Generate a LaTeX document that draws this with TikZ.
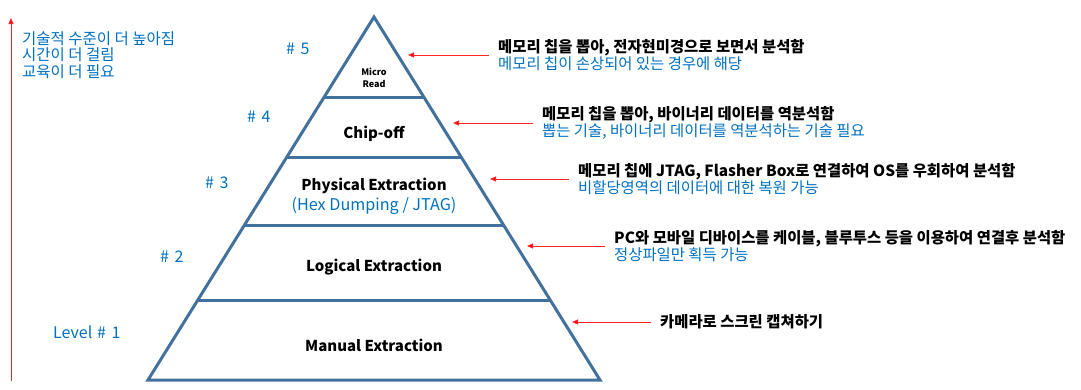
\documentclass[tikz,border=0pt]{standalone}
\usepackage{fontspec}
\setmainfont{Noto Sans CJK KR}
\usetikzlibrary{arrows.meta,calc}
\definecolor{pyr}{HTML}{41719C}
\definecolor{lbl}{HTML}{0070C0}
\begin{document}
\begin{tikzpicture}[x=1pt,y=-1pt,
  pyrline/.style={draw=pyr,line width=3pt,line join=miter},
  redarrow/.style={draw=red!85,line width=0.9pt,-{Triangle[length=6pt,width=5pt,fill=red]}},
  lvl/.style={text=lbl,font=\fontsize{16}{16}\selectfont,inner sep=0pt,anchor=west},
  ptitle/.style={font=\fontsize{15}{18}\selectfont\bfseries,inner sep=0pt},
  note/.style={anchor=west,align=left,inner xsep=9pt,inner ysep=0pt,font=\fontsize{15.4}{16.6}\selectfont},
]
\useasboundingbox (0,0) rectangle (1081,389);
% pyramid
\coordinate (A) at (374,17);
\coordinate (BL) at (148,380);
\coordinate (BR) at (600,380);
\draw[pyrline] (A) -- (BR) -- (BL) -- cycle;
\foreach \t/\n in {0.2231/1,0.3884/2,0.5730/3,0.7796/4} {
  \draw[pyrline] ($(A)!\t!(BL)$) coordinate (L\n) -- ($(A)!\t!(BR)$) coordinate (R\n);
}
% pyramid texts
\node[font=\fontsize{9}{11.5}\selectfont\bfseries,align=center,inner sep=0pt] (mr) at (374,78) {Micro\\Read};
\node[ptitle] (co) at (374,134) {Chip-off};
\node[ptitle] (pe) at (374,186) {Physical Extraction};
\node[text=lbl,font=\fontsize{16.2}{18}\selectfont,inner sep=0pt] (hex) at (374,206) {(Hex Dumping / JTAG)};
\node[ptitle] (le) at (374,267) {Logical Extraction};
\node[ptitle] (me) at (374,345) {Manual Extraction};
% level labels
\node[lvl] (l5) at (286,49) {\#\hspace{0.35em}5};
\node[lvl] (l4) at (247,117) {\#\hspace{0.35em}4};
\node[lvl] (l3) at (205,183) {\#\hspace{0.35em}3};
\node[lvl] (l2) at (160,257) {\#\hspace{0.35em}2};
\node[lvl] (l1) at (53,332) {Level\hspace{0.3em}\#\hspace{0.35em}1};
% left arrow and text
\coordinate (vb) at (11,381);
\coordinate (vt) at (11,18);
\draw[redarrow] (vb) -- (vt);
\node[lvl,align=left,font=\fontsize{15.5}{16.6}\selectfont] (lt) at (22,55) {기술적 수준이 더 높아짐\\시간이 더 걸림\\교육이 더 필요};
% annotations
\node[note] (n5) at (489,55) {{\bfseries 메모리 칩을 뽑아, 전자현미경으로 보면서 분석함}\\\textcolor{lbl}{메모리 칩이 손상되어 있는 경우에 해당}};
\coordinate (t5) at (408,55);
\draw[redarrow] (n5.west) -- (t5);
\node[note] (n4) at (533,123) {{\bfseries 메모리 칩을 뽑아, 바이너리 데이터를 역분석함}\\\textcolor{lbl}{뽑는 기술, 바이너리 데이터를 역분석하는 기술 필요}};
\coordinate (t4) at (453,123);
\draw[redarrow] (n4.west) -- (t4);
\node[note] (n3) at (569,179) {{\bfseries 메모리 칩에 JTAG, Flasher Box로 연결하여 OS를 우회하여 분석함}\\\textcolor{lbl}{비할당영역의 데이터에 대한 복원 가능}};
\coordinate (t3) at (490,179);
\draw[redarrow] (n3.west) -- (t3);
\node[note] (n2) at (605,246) {{\bfseries PC와 모바일 디바이스를 케이블, 블루투스 등을 이용하여 연결후 분석함}\\\textcolor{lbl}{정상파일만 획득 가능}};
\coordinate (t2) at (527,246);
\draw[redarrow] (n2.west) -- (t2);
\node[note] (n1) at (651,322) {\bfseries 카메라로 스크린 캡쳐하기};
\coordinate (t1) at (572,322);
\draw[redarrow] (n1.west) -- (t1);
\end{tikzpicture}
\end{document}
